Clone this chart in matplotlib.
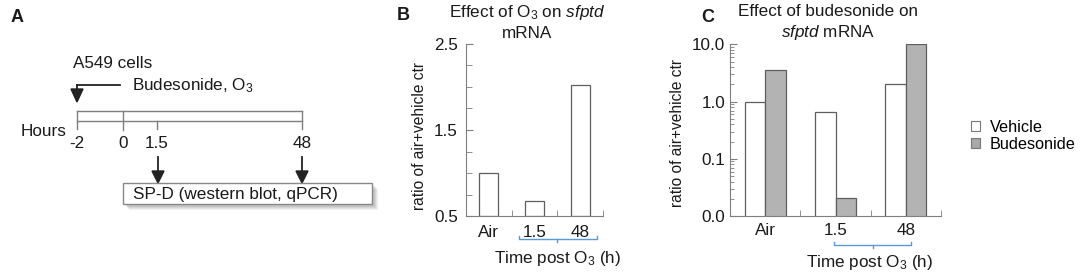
import numpy as np
import matplotlib
matplotlib.use("Agg")
import matplotlib.pyplot as plt
from matplotlib.patches import Rectangle, Patch, Polygon
from matplotlib.ticker import FixedLocator, FixedFormatter, NullFormatter

plt.rcParams['font.family'] = ['Liberation Sans', 'DejaVu Sans']
plt.rcParams['mathtext.fontset'] = 'custom'
plt.rcParams['mathtext.rm'] = 'Liberation Sans'
plt.rcParams['mathtext.it'] = 'Liberation Sans:italic'

# data
cats = ['Air', '1.5', '48']
b_ratio = [1.0, 0.67, 2.02]
c_vehicle = [1.0, 0.66, 2.0]
c_budesonide = [3.6, 0.021, 10.0]

# panel A timeline
hours = ['-2', '0', '1.5', '48']
hour_px = [77, 123, 157, 302]

edge = '#5e5e5e'
gray_fill = '#b3b3b3'
spine = '#7f7f7f'
txt = '#1a1a1a'
blue = '#5b9bd5'
fs = 12.3

W, H = 1084, 277
fig = plt.figure(figsize=(W / 100, H / 100), dpi=100)

# overlay in pixel coordinates for diagram and headers
ov = fig.add_axes([0, 0, 1, 1])
ov.set_xlim(0, W)
ov.set_ylim(H, 0)
ov.axis('off')

def px_axes(l, r, t, b):
    return fig.add_axes([l / W, 1 - b / H, (r - l) / W, (b - t) / H])

# ---------- panel A ----------
ov.text(11, 18, 'A', fontsize=13, fontweight='bold', va='center', ha='left', color=txt)
ov.text(73, 64, 'A549 cells', fontsize=fs, va='center', ha='left', color=txt)
ov.text(132, 86, 'Budesonide, O$_3$', fontsize=fs, va='center', ha='left', color=txt)
ov.plot([77, 120], [85, 85], color='#222222', lw=1.3)
ov.plot([77, 77], [85, 92], color='#222222', lw=1.3)
ov.add_patch(Polygon([[71, 89], [83, 89], [77, 102]], closed=True, color='#222222'))
# timeline bar
ov.plot([77, 302], [111, 111], color=spine, lw=1)
ov.plot([77, 302], [121, 121], color=spine, lw=1)
ov.plot([77, 77], [111, 129], color=spine, lw=1)
ov.plot([123, 123], [111, 130], color=spine, lw=1)
ov.plot([157, 157], [121, 129], color=spine, lw=1)
ov.plot([302, 302], [111, 129], color=spine, lw=1)
ov.text(66, 131, 'Hours', fontsize=fs, va='center', ha='right', color=txt)
for lab, xp in zip(hours, hour_px):
    ov.text(xp, 144, lab, fontsize=fs, va='center', ha='center', color=txt)
for xp in [158, 302]:
    ov.plot([xp, xp], [157, 172], color='#222222', lw=1.3)
    ov.add_patch(Polygon([[xp - 6, 171], [xp + 6, 171], [xp, 183]], closed=True, color='#222222'))
# shadow
for i, a in enumerate([0.08, 0.08, 0.1, 0.12]):
    off = 4 - i
    ov.add_patch(Rectangle((123 + off + 2, 184 + off + 1), 249, 21, facecolor='#555555',
                           edgecolor='none', alpha=a))
ov.add_patch(Rectangle((123, 183), 249, 21, facecolor='white', edgecolor='#888888', lw=1))
ov.text(133, 194, 'SP-D (western blot, qPCR)', fontsize=fs, va='center', ha='left', color=txt)

# ---------- panel B ----------
ov.text(403, 16, 'B', fontsize=13, fontweight='bold', va='center', ha='center', color=txt)
ov.text(527, 12, 'Effect of O$_3$ on $\\mathit{sfptd}$', fontsize=fs, va='center', ha='center', color=txt)
ov.text(527, 33, 'mRNA', fontsize=fs, va='center', ha='center', color=txt)
ov.text(420, 136, 'ratio of air+vehicle ctr', fontsize=11.2, rotation=90, va='center',
        ha='center', color=txt)

axb = px_axes(466, 603, 44, 216)
x = np.arange(len(cats))
axb.bar(x, np.array(b_ratio) - 0.5, bottom=0.5, width=0.41, facecolor='white',
        edgecolor=edge, lw=0.9)
axb.set_xlim(-0.5, 2.5)
axb.set_ylim(0.5, 2.5)
axb.set_yticks([0.5, 1.5, 2.5])
axb.set_yticklabels(['0.5', '1.5', '2.5'])
axb.yaxis.set_minor_locator(FixedLocator([0.75, 1.0, 1.25, 1.75, 2.0, 2.25]))
axb.set_xticks(x)
axb.set_xticklabels(cats)
axb.xaxis.set_minor_locator(FixedLocator([0.5, 1.5, 2.5]))
axb.tick_params(axis='x', which='major', length=0, pad=6.5, labelsize=fs, labelcolor=txt)
axb.tick_params(axis='x', which='minor', direction='in', length=4, color=spine)
axb.tick_params(axis='y', which='both', direction='in', color=spine, labelsize=fs, labelcolor=txt)
axb.tick_params(axis='y', which='major', length=5, pad=6)
axb.tick_params(axis='y', which='minor', length=4)
for s in ['top', 'right']:
    axb.spines[s].set_visible(False)
for s in ['left', 'bottom']:
    axb.spines[s].set_color(spine)
tb = axb.get_xaxis_transform()
axb.plot([0.66, 0.66, 2.37, 2.37], [-0.116, -0.134, -0.134, -0.116], color=blue, lw=1,
         transform=tb, clip_on=False)
axb.plot([1.5, 1.5], [-0.134, -0.152], color=blue, lw=1, transform=tb, clip_on=False)
axb.text(1.5, -0.245, 'Time post O$_3$ (h)', fontsize=fs, ha='center', va='center',
         transform=tb, color=txt)

# ---------- panel C ----------
ov.text(708, 17, 'C', fontsize=13, fontweight='bold', va='center', ha='center', color=txt)
ov.text(828, 12, 'Effect of budesonide on', fontsize=fs, va='center', ha='center', color=txt)
ov.text(828, 33, '$\\mathit{sfptd}$ mRNA', fontsize=fs, va='center', ha='center', color=txt)
ov.text(677, 133, 'ratio of air+vehicle ctr', fontsize=11.2, rotation=90, va='center',
        ha='center', color=txt)

axc = px_axes(730, 941, 44, 216)
bw = 0.29
axc.bar(x - bw / 2, c_vehicle, width=bw, facecolor='white', edgecolor=edge, lw=0.9,
        label='Vehicle')
axc.bar(x + bw / 2, c_budesonide, width=bw, facecolor=gray_fill, edgecolor=edge, lw=0.9,
        label='Budesonide')
axc.set_yscale('log')
axc.set_xlim(-0.5, 2.5)
axc.set_ylim(0.01, 10.2)
axc.yaxis.set_major_locator(FixedLocator([0.01, 0.1, 1, 10]))
axc.yaxis.set_major_formatter(FixedFormatter(['0.0', '0.1', '1.0', '10.0']))
minor = [m * 10.0 ** e for e in [-2, -1, 0] for m in range(2, 10)]
axc.yaxis.set_minor_locator(FixedLocator(minor))
axc.yaxis.set_minor_formatter(NullFormatter())
axc.set_xticks(x)
axc.set_xticklabels(cats)
axc.xaxis.set_minor_locator(FixedLocator([0.5, 1.5, 2.5]))
axc.tick_params(axis='x', which='major', length=0, pad=5, labelsize=fs, labelcolor=txt)
axc.tick_params(axis='x', which='minor', direction='in', length=4, color=spine)
axc.tick_params(axis='y', which='both', direction='in', color=spine, labelsize=fs, labelcolor=txt)
axc.tick_params(axis='y', which='major', length=5, pad=3.5)
axc.tick_params(axis='y', which='minor', length=3)
for s in ['top', 'right']:
    axc.spines[s].set_visible(False)
for s in ['left', 'bottom']:
    axc.spines[s].set_color(spine)
tc = axc.get_xaxis_transform()
axc.plot([0.98, 0.98, 2.07, 2.07], [-0.152, -0.169, -0.169, -0.152], color=blue, lw=1,
         transform=tc, clip_on=False)
axc.plot([1.53, 1.53], [-0.169, -0.186], color=blue, lw=1, transform=tc, clip_on=False)
axc.text(1.49, -0.273, 'Time post O$_3$ (h)', fontsize=fs, ha='center', va='center',
         transform=tc, color=txt)

handles = [Patch(facecolor='white', edgecolor='#777777', lw=0.8, label='Vehicle'),
           Patch(facecolor='#a8a8a8', edgecolor='#777777', lw=0.8, label='Budesonide')]
fig.legend(handles=handles, loc='upper left', bbox_to_anchor=(971 / W, 1 - 120 / H),
           frameon=False, fontsize=11.7, handlelength=0.55, handleheight=0.55,
           handletextpad=0.6, labelspacing=0.12, borderaxespad=0, borderpad=0)

fig.savefig('out.png', dpi=100)
